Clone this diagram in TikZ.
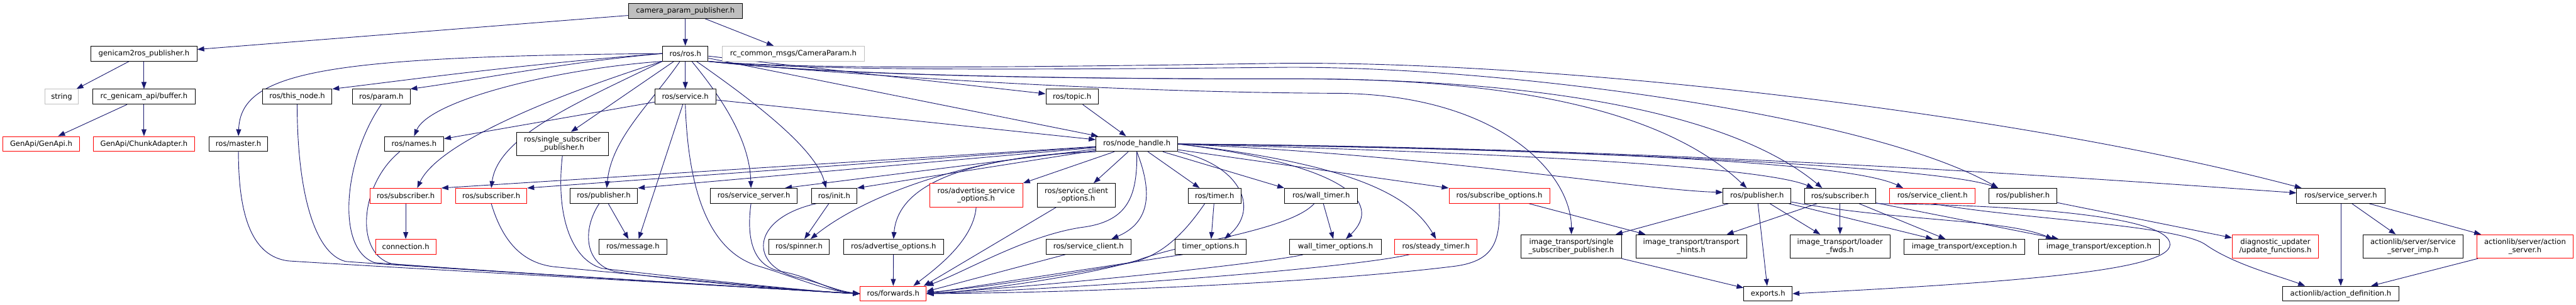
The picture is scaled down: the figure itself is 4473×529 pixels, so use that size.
\documentclass[tikz,border=0pt]{standalone}
\usepackage{fontspec}
\setmainfont{DejaVu Sans}
\usetikzlibrary{arrows.meta,calc}
\definecolor{edgec}{HTML}{191970}
\definecolor{grayb}{HTML}{BFBFBF}
\definecolor{redb}{HTML}{FF0000}
\pgfdeclarelayer{bg}
\pgfsetlayers{bg,main}
\begin{document}
\begin{tikzpicture}[x=0.75pt,y=-0.75pt,
 nb/.style={draw=black, fill=white, line width=0.75pt, inner sep=0pt, minimum height=19.5pt, font=\fontsize{9.5pt}{10pt}\selectfont, align=center},
 two/.style={minimum height=30.75pt},
 rb/.style={nb, draw=redb},
 gb/.style={nb, draw=grayb},
 wd/.style={minimum width=#1*0.75pt},
 e/.style={draw=edgec, line width=0.75pt, -{Triangle[length=9pt,width=6.5pt]}}]
\useasboundingbox (0,0) rectangle (4473,529);
% row 0
\node[nb, fill=grayb, wd=198] (cpp) at (1190,19) {camera\_param\_publisher.h};
% row 1
\node[nb, wd=184] (g2r) at (250,93) {genicam2ros\_publisher.h};
\node[nb, wd=79] (ros) at (1190,93) {ros/ros.h};
\node[gb, wd=247] (rcm) at (1377.5,93) {rc\_common\_msgs/CameraParam.h};
% row 2
\node[gb, wd=58] (string) at (107,168) {string};
\node[nb, wd=178] (buf) at (250,168) {rc\_genicam\_api/buffer.h};
\node[nb, wd=121] (thisnode) at (516,168) {ros/this\_node.h};
\node[nb, wd=100] (param) at (662,168) {ros/param.h};
\node[nb, wd=106] (service) at (1190,168) {ros/service.h};
\node[nb, wd=91] (topic) at (1861.5,168) {ros/topic.h};
% row 3
\node[rb, wd=133] (genapi) at (71.5,250) {GenApi/GenApi.h};
\node[rb, wd=176] (chunk) at (250,250) {GenApi/ChunkAdapter.h};
\node[nb, wd=102] (master) at (414,250) {ros/master.h};
\node[nb, wd=103] (names) at (719,250) {ros/names.h};
\node[nb, two, wd=159] (ssp) at (976.5,250) {ros/single\_subscriber\\\_publisher.h};
\node[nb, wd=142] (nh) at (1974,250) {ros/node\_handle.h};
% row 4
\node[rb, wd=123] (sub1) at (704.5,340) {ros/subscriber.h};
\node[rb, wd=124] (sub2) at (853,340) {ros/subscriber.h};
\node[nb, wd=117] (pub1) at (1048.5,340) {ros/publisher.h};
\node[nb, wd=151] (ssrv1) at (1309,340) {ros/service\_server.h};
\node[nb, wd=79] (init) at (1448.5,340) {ros/init.h};
\node[rb, two, wd=162] (asopt) at (1695,339) {ros/advertise\_service\\\_options.h};
\node[nb, two, wd=136] (scopt) at (1869,339) {ros/service\_client\\\_options.h};
\node[nb, wd=92] (timer) at (2109,340) {ros/timer.h};
\node[nb, wd=127] (wtimer) at (2294,340) {ros/wall\_timer.h};
\node[rb, wd=175] (subopt) at (2603.5,340) {ros/subscribe\_options.h};
\node[nb, wd=118] (itpub) at (3051,340) {ros/publisher.h};
\node[nb, wd=124] (itsub) at (3195,340) {ros/subscriber.h};
\node[rb, wd=149] (sclient) at (3355.5,340) {ros/service\_client.h};
\node[nb, wd=117] (pub3) at (3512.5,340) {ros/publisher.h};
\node[nb, wd=153] (ssrv2) at (4064.5,340) {ros/service\_server.h};
% row 5
\node[rb, wd=105] (conn) at (704.5,428.5) {connection.h};
\node[nb, wd=118] (msg) at (1099,428.5) {ros/message.h};
\node[nb, wd=105] (spinner) at (1387.5,428.5) {ros/spinner.h};
\node[nb, wd=173] (advopt) at (1551.5,428.5) {ros/advertise\_options.h};
\node[nb, wd=148] (sclienth) at (1890,428.5) {ros/service\_client.h};
\node[nb, wd=124] (topt) at (2102,428.5) {timer\_options.h};
\node[nb, wd=159] (wtopt) at (2319,428.5) {wall\_timer\_options.h};
\node[rb, wd=143] (steady) at (2493.5,428.5) {ros/steady\_timer.h};
\node[nb, two, wd=175] (itssp) at (2728.5,428) {image\_transport/single\\\_subscriber\_publisher.h};
\node[nb, two, wd=192] (ithints) at (2936.6,428) {image\_transport/transport\\\_hints.h};
\node[nb, two, wd=174] (itloader) at (3195,428) {image\_transport/loader\\\_fwds.h};
\node[nb, wd=209] (itexc1) at (3411,428.5) {image\_transport/exception.h};
\node[nb, wd=209] (itexc2) at (3644.5,428.5) {image\_transport/exception.h};
\node[rb, two, wd=150] (diag) at (3951,428) {diagnostic\_updater\\/update\_functions.h};
\node[nb, two, wd=174] (ssimp) at (4190,428) {actionlib/server/service\\\_server\_imp.h};
\node[rb, two, wd=167] (asrv) at (4384.5,428) {actionlib/server/action\\\_server.h};
% row 6
\node[rb, wd=115] (fwd) at (1551,510) {ros/forwards.h};
\node[nb, wd=84] (exports) at (3070,510) {exports.h};
\node[nb, wd=203] (actdef) at (4064.5,510) {actionlib/action\_definition.h};

\begin{pgfonlayer}{bg}
% top
\draw[e] (cpp) -- (g2r);
\draw[e] (cpp) -- (ros);
\draw[e] (cpp) -- (rcm);
\draw[e] (g2r) -- (string);
\draw[e] (g2r) -- (buf);
\draw[e] (buf) -- (genapi);
\draw[e] (buf) -- (chunk);
% ros left
\draw[e] (ros.west) .. controls (560,98) and (418,125) .. (master.north);
\draw[e] (ros.west) .. controls (900,112) and (700,140) .. (thisnode.north east);
\draw[e] (ros.west) .. controls (980,108) and (820,140) .. (param.north east);
\draw[e] (ros.south west) .. controls (960,120) and (745,175) .. (names.north);
\draw[e] (ros.south west) .. controls (950,170) and (760,250) .. ($(sub1.north)+(20,0)$);
\draw[e] (ros.south west) .. controls (1010,175) and (865,235) .. (sub2.north);
\draw[e] (ros) -- ($(ssp.north)+(15,0)$);
\draw[e] (ros) .. controls (1130,180) and (1062,240) .. ($(pub1.north)+(5,0)$);
\draw[e] (ros) -- (service);
\draw[e] (ros) .. controls (1262,180) and (1302,250) .. ($(ssrv1.north)+(-5,0)$);
\draw[e] (ros) .. controls (1300,170) and (1415,255) .. ($(init.north)+(-14,0)$);
\draw[e] (ros) -- (topic);
\draw[e] (ros) -- (nh);
% ros right (passing below the CameraParam box)
\draw[e] (ros.south east) .. controls (1400,120) and (1700,118) .. (2220,110) .. controls (2700,105) and (3500,195) .. ($(ssrv2.north west)+(9,0)$);
\draw[e] (ros.south east) .. controls (1400,122) and (1700,122) .. (2220,117) .. controls (2600,113) and (3250,200) .. ($(pub3.north)+(-43,0)$);
\draw[e] (ros.south east) .. controls (1400,125) and (1700,137) .. (2220,137) .. controls (2650,135) and (3000,190) .. ($(itsub.north)+(-31,0)$);
\draw[e] (ros.south east) .. controls (1400,126) and (1700,137) .. (2220,137) .. controls (2650,133) and (2900,200) .. ($(itpub.north)+(-18,0)$);
\draw[e] (ros.south east) .. controls (1450,128) and (1900,160) .. (2316,162) .. controls (2600,162) and (2729,300) .. (itssp.north);
% service, topic
\draw[e] (service) -- (names);
\draw[e] (service) -- ($(msg.north)+(10,0)$);
\draw[e] (service) -- (nh);
\draw[e] (topic) -- (nh);
% into forwards from the left
\draw[e] (master.south) .. controls (414,380) and (440,445) .. (500,453) .. controls +(100,7) and +(-80,-5) .. (fwd.west);
\draw[e] (thisnode.south) .. controls (516,330) and (545,440) .. (600,454) .. controls +(100,8) and +(-80,-4) .. (fwd.west);
\draw[e] (param.south) .. controls (600,270) and (580,430) .. (650,456) .. controls +(100,9) and +(-80,-4) .. (fwd.west);
\draw[e] ($(names.south)+(-25,0)$) .. controls (625,320) and (615,440) .. (680,458) .. controls +(100,9) and +(-80,-4) .. (fwd.west);
\draw[e] (sub2.south) .. controls (870,410) and (900,455) .. (960,463) .. controls +(100,10) and +(-80,-3) .. (fwd.west);
\draw[e] (ssp.south) .. controls (965,370) and (990,450) .. (1045,466) .. controls +(100,12) and +(-80,-3) .. (fwd.west);
\draw[e] ($(pub1.south)+(-8,0)$) .. controls (1010,400) and (1015,460) .. (1070,472) .. controls +(100,15) and +(-80,-3) .. (fwd.west);
\draw[e] (service.south) .. controls (1195,340) and (1235,440) .. (1320,463) .. controls +(60,18) and +(-60,-5) .. (fwd.west);
\draw[e] ($(ssrv1.south)+(-5,0)$) .. controls (1295,420) and (1310,465) .. (1360,472) .. controls +(50,10) and +(-50,-4) .. (fwd.west);
\draw[e] ($(init.south)+(-31,0)$) .. controls (1300,380) and (1300,465) .. (1390,483) .. controls +(40,10) and +(-40,-5) .. (fwd.west);
% into forwards from above and right
\draw[e] (advopt) -- (fwd);
\draw[e] (asopt.south) .. controls (1690,420) and (1620,470) .. ($(fwd.north)+(35,0)$);
\draw[e] ($(scopt.south)+(-35,0)$) -- ($(fwd.north east)+(-5,0)$);
\draw[e] (nh.south) .. controls (1975,340) and (1960,385) .. (1877,395) .. controls (1780,410) and (1680,470) .. (fwd.north east);
\draw[e] ($(sclienth.south)+(-40,0)$) -- ($(fwd.east)+(0,-4)$);
\draw[e] ($(timer.south)+(-17,0)$) .. controls (2060,400) and (2020,445) .. (1960,457) .. controls (1850,478) and (1700,500) .. ($(fwd.east)+(0,-2)$);
\draw[e] ($(topt.south)+(-48,0)$) -- (fwd.east);
\draw[e] ($(wtimer.south)+(-12,0)$) .. controls (2240,400) and (2060,420) .. (1975,452) .. controls (1880,480) and (1700,505) .. (fwd.east);
\draw[e] ($(wtopt.south)+(-56,0)$) .. controls (2230,452) and (1900,490) .. (fwd.east);
\draw[e] ($(steady.south)+(-46,0)$) .. controls (2350,465) and (1900,500) .. (fwd.east);
\draw[e] (subopt.south) .. controls (2605,420) and (2595,455) .. (2520,463) .. controls (2300,490) and (1900,508) .. (fwd.east);
% misc
\draw[e] (init) -- (spinner);
\draw[e] (pub1) -- (msg);
\draw[e] (sub1) -- (conn);
\draw[e] (timer) -- (topt);
\draw[e] (wtimer) -- (wtopt);
\draw[e] (subopt) -- (ithints);
% node_handle straight
\draw[e] (nh) -- (sub1.north east);
\draw[e] (nh) -- (sub2.north east);
\draw[e] (nh) -- (pub1.north east);
\draw[e] (nh) -- ($(ssrv1.north east)+(-22,0)$);
\draw[e] (nh) -- (init.north east);
\draw[e] (nh) -- (asopt.north east);
\draw[e] (nh) -- ($(scopt.north)+(30,0)$);
\draw[e] (nh) -- ($(timer.north)+(-26,0)$);
\draw[e] (nh) -- (wtimer.north west);
\draw[e] (nh) -- (subopt.north west);
% node_handle curves
\draw[e] (nh.south west) .. controls (1700,272) and (1560,312) .. (advopt.north);
\draw[e] (nh.south west) .. controls (1690,268) and (1500,340) .. ($(spinner.north)+(20,0)$);
\draw[e] (nh.south) .. controls (2000,330) and (2000,385) .. ($(sclienth.north)+(40,0)$);
\draw[e] (nh.south east) .. controls (2150,285) and (2190,360) .. ($(topt.north)+(24,0)$);
\draw[e] (nh.east) .. controls (2330,285) and (2405,350) .. ($(wtopt.north)+(18,0)$);
\draw[e] (nh.east) .. controls (2350,285) and (2450,340) .. (steady.north);
\draw[e] (nh.east) .. controls (2500,270) and (2850,330) .. ($(itpub.west)+(0,-6)$);
\draw[e] (nh.east) .. controls (2500,262) and (3050,285) .. ($(itsub.north)+(-46,0)$);
\draw[e] (nh.east) .. controls (2600,258) and (3200,275) .. ($(sclient.north)+(-51,0)$);
\draw[e] (nh.east) .. controls (2600,255) and (3350,285) .. ($(pub3.north)+(-43,0)$);
\draw[e] (nh.east) .. controls (2800,255) and (3500,300) .. ($(ssrv2.west)+(0,-5)$);
% image_transport
\draw[e] (itpub) -- (itssp);
\draw[e] (itsub) -- (ithints);
\draw[e] (itssp) -- (exports);
\draw[e] (itpub) -- (exports);
\draw[e] (itpub) -- (itloader);
\draw[e] (itsub) -- (itloader);
\draw[e] (itpub) -- (itexc1);
\draw[e] (itsub) -- (itexc1);
\draw[e] (itsub) -- ($(itexc2.north)+(-70,0)$);
\draw[e] (itpub) .. controls (3300,385) and (3480,380) .. ($(itexc2.north)+(-80,0)$);
\draw[e] (itsub.south east) .. controls (3450,355) and (3770,370) .. (3768,425) .. controls (3766,470) and (3500,490) .. (exports.east);
\draw[e] (sclient.south) .. controls (3500,380) and (3780,390) .. (3830,425) .. controls (3880,460) and (3960,480) .. ($(actdef.north)+(-62,0)$);
\draw[e] (pub3) -- (diag);
\draw[e] (ssrv2) -- (actdef);
\draw[e] (ssrv2) -- (ssimp);
\draw[e] (ssrv2) -- (asrv);
\draw[e] (asrv) -- (actdef);
\end{pgfonlayer}
\end{tikzpicture}
\end{document}
